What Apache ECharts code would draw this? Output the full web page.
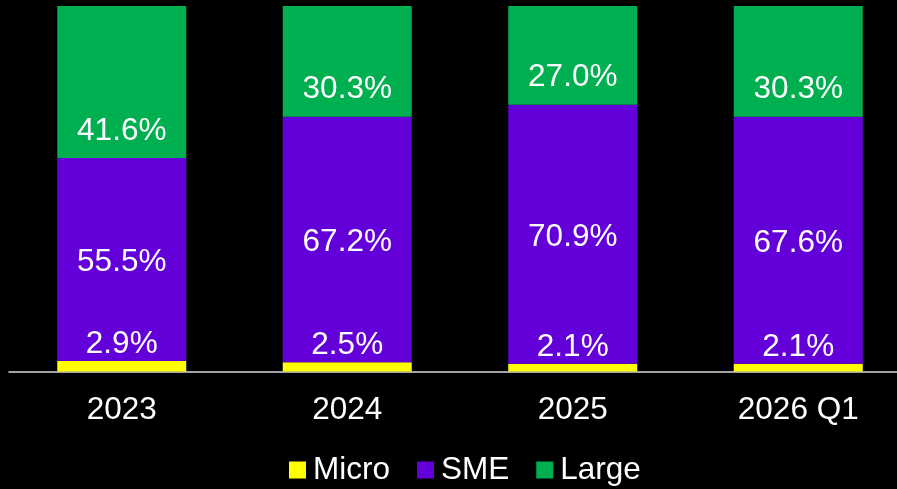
<!DOCTYPE html>
<html>
<head>
<meta charset="utf-8">
<script src="https://cdn.jsdelivr.net/npm/echarts@6/dist/echarts.min.js"></script>
<style>
html,body{margin:0;padding:0;background:#000;}
#chart{width:897px;height:489px;}
</style>
</head>
<body>
<div id="chart"></div>
<script>
const categories = ['2023', '2024', '2025', '2026 Q1'];
const micro = [2.9, 2.5, 2.1, 2.1];
const sme = [55.5, 67.2, 70.9, 67.6];
const large = [41.6, 30.3, 27.0, 30.3];

const FONT = 'Liberation Sans, Arial, sans-serif';
const FS = 31.5;
const fmt = p => p.value.toFixed(1) + '%';
const chart = echarts.init(document.getElementById('chart'));
chart.setOption({
  backgroundColor: '#000',
  animation: false,
  grid: { left: 9, width: 902, top: 6, height: 365.5, outerBoundsMode: 'none' },
  legend: {
    top: 449,
    left: 284,
    itemWidth: 17,
    itemHeight: 17,
    itemGap: 27,
    icon: 'rect',
    textStyle: { color: '#fff', fontSize: FS, fontFamily: FONT, padding: [0, 0, 0, 2] },
    data: ['Micro', 'SME', 'Large']
  },
  xAxis: {
    type: 'category',
    data: categories,
    axisLine: { show: true, lineStyle: { color: '#d9d9d9', width: 1.5 } },
    axisTick: { show: false },
    axisLabel: { color: '#fff', fontSize: FS, fontFamily: FONT, margin: 23 }
  },
  yAxis: {
    type: 'value', min: 0, max: 100, show: false,
    splitLine: { show: false }
  },
  series: [
    {
      name: 'Micro', type: 'bar', stack: 'total', data: micro, barWidth: 129,
      itemStyle: { color: '#FFFF00' },
      label: { show: true, position: 'top', distance: 1, color: '#fff', fontSize: FS, fontFamily: FONT, formatter: fmt }
    },
    {
      name: 'SME', type: 'bar', stack: 'total', data: sme, barWidth: 129,
      itemStyle: { color: '#6300D9' },
      label: { show: true, position: 'inside', offset: [0, 3], color: '#fff', fontSize: FS, fontFamily: FONT, formatter: fmt }
    },
    {
      name: 'Large', type: 'bar', stack: 'total', data: large, barWidth: 129,
      itemStyle: { color: '#00B050' },
      label: { show: true, position: 'insideBottom', distance: 11, color: '#fff', fontSize: FS, fontFamily: FONT, formatter: fmt }
    }
  ]
});
</script>
</body>
</html>
